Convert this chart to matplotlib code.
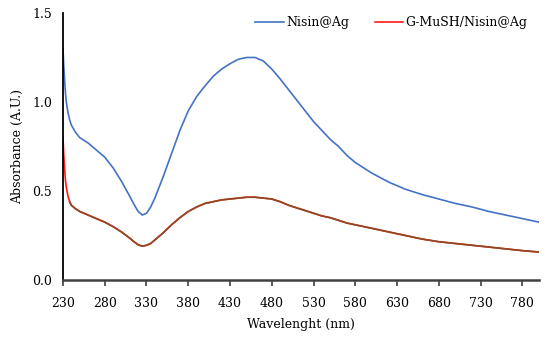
import matplotlib
matplotlib.use('Agg')
import matplotlib.pyplot as plt

wavelength = [230, 231, 232, 233, 234, 236, 238, 240, 245, 250, 260, 270, 280,
              290, 300, 310, 315, 320, 325, 330, 335, 340, 350, 360, 370, 380,
              390, 400, 410, 420, 430, 440, 450, 460, 470, 480, 490, 500, 510,
              520, 530, 540, 550, 560, 570, 580, 590, 600, 620, 640, 660, 680,
              700, 720, 740, 760, 780, 800]

nisin_ag = [1.30, 1.20, 1.12, 1.05, 1.00, 0.94, 0.90, 0.87, 0.83, 0.80, 0.77,
            0.73, 0.69, 0.63, 0.555, 0.47, 0.425, 0.385, 0.365, 0.375, 0.41,
            0.46, 0.58, 0.71, 0.84, 0.95, 1.03, 1.09, 1.145, 1.185, 1.215,
            1.24, 1.25, 1.25, 1.23, 1.185, 1.13, 1.07, 1.01, 0.95, 0.89, 0.84,
            0.79, 0.75, 0.70, 0.66, 0.63, 0.60, 0.55, 0.51, 0.48, 0.455, 0.43,
            0.41, 0.385, 0.365, 0.345, 0.325]

gmush_nisin_ag = [0.80, 0.70, 0.62, 0.56, 0.52, 0.47, 0.44, 0.42, 0.40, 0.385,
                  0.365, 0.345, 0.325, 0.30, 0.27, 0.235, 0.215, 0.198, 0.19,
                  0.195, 0.205, 0.225, 0.265, 0.31, 0.35, 0.385, 0.41, 0.43, 0.44,
                  0.45, 0.455, 0.46, 0.465, 0.465, 0.46, 0.455, 0.44, 0.42, 0.405,
                  0.39, 0.375, 0.36, 0.35, 0.335, 0.32, 0.31, 0.30, 0.29, 0.27,
                  0.25, 0.23, 0.215, 0.205, 0.195, 0.185, 0.175, 0.165, 0.157]

xticks = list(range(230, 781, 50))
yticks = [0.0, 0.5, 1.0, 1.5]

plt.rcParams['font.family'] = ['DejaVu Serif']

fig = plt.figure(figsize=(5.5, 3.38), dpi=100)
ax = fig.add_axes([0.1145, 0.1716, 0.8655, 0.79])

ax.plot(wavelength, nisin_ag, color='#4472C4', lw=1.2, label='Nisin@Ag')
ax.plot(wavelength, gmush_nisin_ag, color='#FF1A1A', lw=1.2, label='G-MuSH/Nisin@Ag')
# the red trace appears brownish over most of its length in the original
tail = [i for i, w in enumerate(wavelength) if w >= 238]
ax.plot([wavelength[i] for i in tail], [gmush_nisin_ag[i] for i in tail],
        color='#8C4A22', lw=1.2)

ax.set_xlim(230, 800)
ax.set_ylim(0, 1.5)
ax.set_xticks(xticks)
ax.set_yticks(yticks)
ax.set_yticklabels([f'{v:.1f}' for v in yticks])
ax.tick_params(axis='x', direction='out', length=4, width=1.2, color='#404040',
               labelsize=9, pad=8)
ax.tick_params(axis='y', length=0, labelsize=9, pad=8)

for s in ['top', 'right']:
    ax.spines[s].set_visible(False)
ax.spines['left'].set_color('black')
ax.spines['left'].set_linewidth(1.3)
ax.spines['bottom'].set_color('#404040')
ax.spines['bottom'].set_linewidth(1.8)

ax.set_xlabel('Wavelenght (nm)', fontsize=9, labelpad=6)
ax.set_ylabel('Absorbance (A.U.)', fontsize=9, labelpad=6)

ax.legend(loc='upper right', bbox_to_anchor=(1.0, 1.03), ncol=2, frameon=False,
          fontsize=9, handlelength=2.3, handletextpad=0.2, columnspacing=2.0)

fig.savefig('out.png', dpi=100)
